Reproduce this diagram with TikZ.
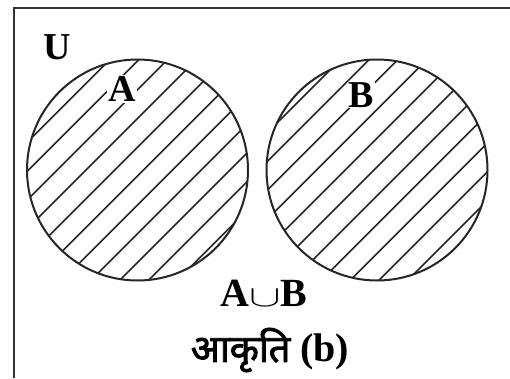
\documentclass[tikz,border=0pt]{standalone}
\usepackage{fontspec}
\setmainfont{Liberation Serif}
\newfontfamily\deva[Script=Devanagari,FakeBold=2.2]{Noto Sans}
\begin{document}
\begin{tikzpicture}[x=1pt,y=1pt,
  frame/.style={draw=black!80,line width=2.6pt},
  setcircle/.style={draw=black!85,line width=2pt},
  hatch/.style={draw=black!85,line width=1.6pt},
  lbl/.style={font=\fontsize{38}{40}\selectfont\bfseries,inner sep=1pt},
  lblbox/.style={lbl,fill=white}]
\useasboundingbox (0,0) rectangle (510,378);
\fill[white] (0,0) rectangle (510,378);
% universe frame (only left and top sides visible)
\coordinate (fbl) at (14,0);
\coordinate (ftl) at (14,370);
\coordinate (ftr) at (510,370);
\draw[frame] (fbl) -- (ftl) -- (ftr);
% circles
\coordinate (ca) at (137.5,208);
\coordinate (cb) at (377,208);
\begin{scope}
  \clip (ca) circle (110.5);
  \foreach \k in {-14,...,14} \draw[hatch] (\k*28.8+22-200,-200) -- ++(600,600);
\end{scope}
\begin{scope}
  \clip (cb) circle (110.5);
  \foreach \k in {-5,...,25} \draw[hatch] (\k*28.8+22-200,-200) -- ++(600,600);
\end{scope}
\draw[setcircle] (ca) circle (110.5);
\draw[setcircle] (cb) circle (110.5);
% labels
\node[lbl] (u) at (57,331) {U};
\node[lblbox] (a) at (122,289) {A};
\node[lblbox] (b) at (361,283) {B};
\node[font=\fontsize{40}{42}\selectfont\bfseries] (union) at (264,85) {A\scalebox{1.9}[1.2]{$\cup$}B};
\node (cap) at (270,28) {\deva\fontsize{38}{40}\selectfont आकृति \fontsize{40}{42}\selectfont\rmfamily\bfseries(b)};
\end{tikzpicture}
\end{document}
